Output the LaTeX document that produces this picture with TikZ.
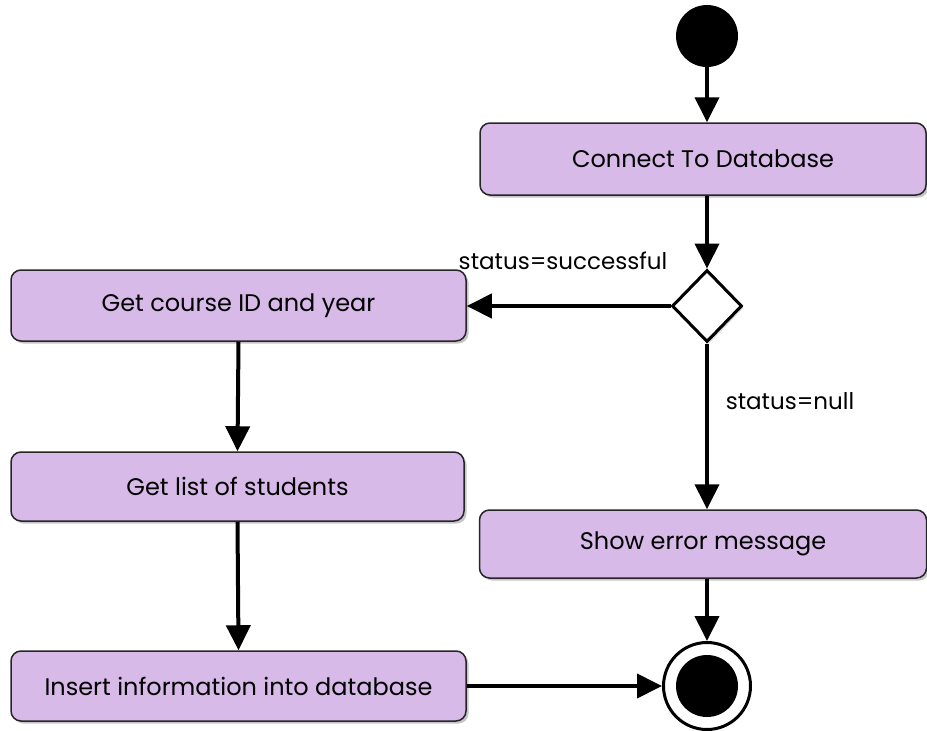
\documentclass[tikz,border=0pt]{standalone}
\usepackage{fontspec}
\setmainfont{Poppins}
\usetikzlibrary{arrows.meta,shapes.geometric,shadows}
\definecolor{boxfill}{RGB}{216,186,233}
\tikzset{
  actbox/.style={draw=black!85, line width=1.5pt, fill=boxfill, rounded corners=10pt,
    drop shadow={shadow xshift=2.5pt, shadow yshift=-2.5pt, opacity=0.45},
    inner sep=0pt, font=\fontsize{24}{28}\selectfont},
  arr/.style={line width=4pt, -{Triangle[width=24pt,length=25pt]}},
  lbl/.style={font=\fontsize{23}{27}\selectfont, inner sep=0pt},
}
\begin{document}
\begin{tikzpicture}[x=1pt,y=-1pt]
\useasboundingbox (0,0) rectangle (927,731);
\node[circle, fill=black, minimum size=62pt, inner sep=0pt] (start) at (707,36) {};
\node[actbox, minimum width=446pt, minimum height=72pt] (connect) at (703,159) {Connect To Database};
\node[diamond, draw=black, line width=3pt, fill=white, minimum width=70pt, minimum height=72pt, inner sep=0pt,
  drop shadow={shadow xshift=2pt, shadow yshift=-2pt, opacity=0.3}] (dec) at (707,306) {};
\node[actbox, minimum width=455pt, minimum height=71pt] (course) at (238.5,305.5) {Get course ID and year};
\node[actbox, minimum width=453pt, minimum height=69pt] (list) at (237.5,486.5) {Get list of students};
\node[actbox, minimum width=455pt, minimum height=70pt] (insert) at (238.5,686) {Insert information into database};
\node[actbox, minimum width=447pt, minimum height=68pt] (error) at (703,544) {Show error message};
\node[circle, draw=black, line width=3pt, fill=white, minimum size=87pt, inner sep=0pt] (endo) at (707,686) {};
\node[circle, fill=black, minimum size=62pt, inner sep=0pt] (endi) at (707,686) {};
\node[lbl] (l1) at (563,261) {status=successful};
\node[lbl] (l2) at (790,401) {status=null};
\draw[arr] (start.south) -- (start.south |- connect.north);
\draw[arr] (connect.south -| dec.north) -- (dec.north);
\draw[arr] (dec.west) -- (course.east |- dec.west);
\draw[arr] (dec.south) -- (dec.south |- error.north);
\draw[arr] (error.south -| endo.north) -- (endo.north);
\draw[arr] (course.south) -- (list.north);
\draw[arr] (list.south) -- (insert.north);
\draw[arr] (insert.east) -- (endo.west);
\end{tikzpicture}
\end{document}
